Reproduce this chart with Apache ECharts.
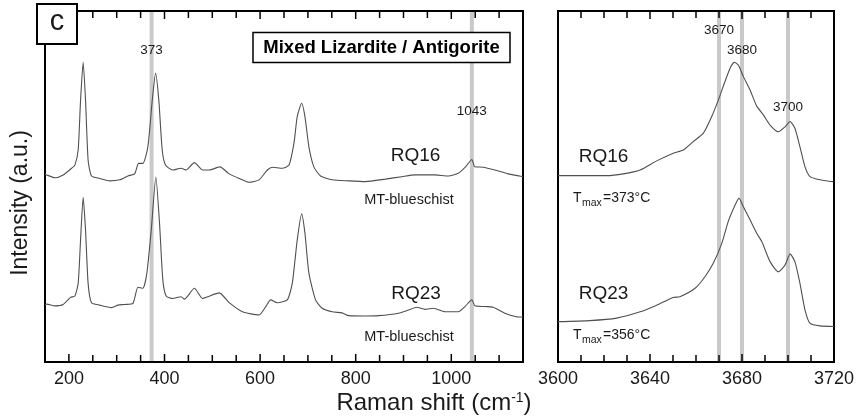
<!DOCTYPE html>
<html>
<head>
<meta charset="utf-8">
<script src="https://cdn.jsdelivr.net/npm/echarts@6/dist/echarts.min.js"></script>
<style>
  html, body { margin: 0; padding: 0; background: #fff; }
  #chart { width: 859px; height: 419px; }
</style>
</head>
<body>
<div id="chart"></div>
<script>
// Low-wavenumber region (lattice modes), Raman shift in cm-1 and intensity in a.u.
const rq16LowShift = [150, 153.5, 170.8, 188.1, 205.6, 212.5, 219.4, 224.4, 229.8, 234.8, 240.2, 247.3, 264.6, 285.4, 306.3, 323.5, 337.5, 345.8, 354.8, 365.2, 374.4, 381.3, 388.1, 395.2, 402.1, 417.3, 434.8, 445.2, 462.5, 479.8, 493.8, 516.0, 535.4, 556.3, 577.1, 597.9, 615.2, 625.6, 646.5, 660.4, 670.8, 677.7, 686.9, 693.8, 702.1, 712.5, 726.5, 750.6, 785.4, 820.2, 861.9, 896.5, 924.4, 966.0, 993.8, 1014.6, 1029.8, 1043, 1049.4, 1066.7, 1091.0, 1118.8, 1143.1, 1150];
const rq16LowIntensity = [53.6, 53.3, 52.5, 53.3, 55.2, 56.1, 60.4, 74.6, 85.4, 74.6, 57.5, 53.0, 52.3, 51.6, 51.9, 53.0, 53.6, 56.6, 56.6, 61.3, 74.6, 82.3, 74.6, 60.4, 56.1, 54.7, 55.2, 54.7, 56.8, 54.7, 54.7, 55.6, 53.6, 52.3, 51.2, 51.9, 54.7, 55.5, 55.2, 56.1, 62.3, 69.9, 73.7, 69.9, 61.3, 55.6, 53.0, 51.9, 51.6, 51.4, 52.1, 52.8, 53.3, 53.3, 53.0, 53.8, 55.6, 57.7, 55.6, 55.5, 54.7, 53.6, 53.0, 52.8];

const rq23LowShift = [150, 153.5, 170.8, 188.1, 203.5, 212.5, 219.4, 224.4, 229.8, 234.8, 240.2, 247.3, 264.6, 289.0, 302.7, 316.7, 334.0, 344.4, 354.8, 363.1, 372.3, 381.9, 389.6, 396.5, 403.5, 417.3, 434.8, 441.7, 462.5, 479.8, 490.2, 514.6, 535.4, 563.1, 597.9, 611.9, 622.3, 636.0, 656.9, 667.3, 677.7, 686.9, 693.8, 702.1, 716.0, 729.8, 750.6, 771.5, 785.4, 820.2, 847.9, 889.6, 910.4, 927.7, 945.2, 962.5, 986.9, 1014.6, 1028.5, 1043, 1049.4, 1070.2, 1087.5, 1111.9, 1136.0, 1150];
const rq23LowIntensity = [16.4, 16.5, 16.0, 16.4, 18.4, 18.8, 22.4, 34.8, 46.9, 37.6, 22.4, 16.9, 16.2, 15.5, 16.2, 16.4, 16.7, 21.3, 21.0, 25.3, 37.6, 52.7, 39.5, 23.4, 18.8, 18.1, 18.6, 17.9, 21.0, 18.1, 18.6, 19.7, 16.9, 14.3, 13.4, 15.8, 17.7, 16.9, 17.7, 22.4, 34.8, 42.2, 36.7, 25.3, 17.7, 15.3, 14.3, 14.0, 13.2, 13.1, 13.2, 13.9, 14.8, 15.6, 15.0, 15.3, 14.3, 14.3, 15.8, 17.7, 16.0, 15.8, 15.6, 13.9, 12.9, 12.8];

// OH-stretching region
const rq16OHShift = [3600, 3621.2, 3628.4, 3635.7, 3642.9, 3650.1, 3654.5, 3658.8, 3663.2, 3666.8, 3669.7, 3672.6, 3675.1, 3676.7, 3678.4, 3680.6, 3683.5, 3686.4, 3689.3, 3692.2, 3695.8, 3698.7, 3700.9, 3703.0, 3705.2, 3707.4, 3709.6, 3713.9, 3719.7, 3720];
const rq16OHIntensity = [53.1, 53.1, 53.6, 54.7, 57.3, 59.5, 60.4, 62.8, 65.2, 69.9, 74.6, 79.9, 84.1, 85.4, 84.6, 81.3, 77.5, 72.9, 70.4, 67.5, 65.6, 67.0, 68.5, 66.6, 61.3, 55.6, 52.8, 51.9, 51.4, 51.4];

const rq23OHShift = [3600, 3613.9, 3625.5, 3635.7, 3642.9, 3650.1, 3653.0, 3659.6, 3663.9, 3667.5, 3671.2, 3674.0, 3677.0, 3678.7, 3680.6, 3683.5, 3686.4, 3688.6, 3692.2, 3695.8, 3698.7, 3700.9, 3703.0, 3705.2, 3707.4, 3709.6, 3713.9, 3720];
const rq23OHIntensity = [11.5, 11.8, 12.5, 14.3, 16.2, 18.4, 18.6, 21.0, 24.3, 28.1, 33.8, 40.0, 44.7, 46.7, 44.2, 40.5, 36.7, 34.3, 28.6, 25.7, 27.6, 30.8, 28.6, 22.4, 14.8, 11.0, 10.3, 10.1];

// Axis ticks
const lowTickLabels = [200, 400, 600, 800, 1000];
const lowMinorTicks = [250, 300, 350, 450, 500, 550, 650, 700, 750, 850, 900, 950, 1050, 1100];
const ohTickLabels = [3600, 3640, 3680, 3720];
const ohMajorTicks = [3640, 3680];
const ohMinorTicks = [3610, 3620, 3630, 3650, 3660, 3670, 3690, 3700, 3710];

// Reference band positions (cm-1)
const lowBands = [373, 1043];
const ohBands = [3670, 3680, 3700];

const FONT = '"Liberation Sans", Arial, Helvetica, sans-serif';
const INK = '#1a1a1a';
const LINE = '#505050';

const chart = echarts.init(document.getElementById('chart'), null, { renderer: 'canvas' });

const zip = (xs, ys) => xs.map((x, i) => [x, ys[i]]);

function xAxisFor(gridIndex, min, max, labelValues) {
  return {
    type: 'value', gridIndex, min, max,
    axisLine: { show: false },
    splitLine: { show: false },
    axisTick: { show: false },
    axisLabel: {
      show: true, customValues: labelValues, margin: 8,
      fontSize: 18, color: INK, fontFamily: FONT, formatter: v => String(v)
    }
  };
}

// Gray reference bands spanning the full plot height
function bandSeries(gridIndex, values) {
  return {
    type: 'custom', xAxisIndex: gridIndex, yAxisIndex: gridIndex, z: 1, silent: true,
    data: values.map(v => [v]),
    encode: { x: 0 },
    renderItem(params, api) {
      const top = api.coord([api.value(0), 100]);
      const bot = api.coord([api.value(0), 0]);
      return {
        type: 'rect',
        shape: { x: top[0] - 2, y: top[1] + 1, width: 4, height: bot[1] - top[1] - 2 },
        style: { fill: '#c9c9c9' }
      };
    }
  };
}

// Inward tick marks on the bottom and top frame edges
function tickSeries(gridIndex, values, len) {
  return {
    type: 'custom', xAxisIndex: gridIndex, yAxisIndex: gridIndex, z: 5, silent: true,
    data: values.map(v => [v]),
    encode: { x: 0 },
    renderItem(params, api) {
      const top = api.coord([api.value(0), 100]);
      const bot = api.coord([api.value(0), 0]);
      const st = { stroke: '#000', lineWidth: 1.5 };
      return {
        type: 'group',
        children: [
          { type: 'line', shape: { x1: top[0], y1: top[1], x2: top[0], y2: top[1] + len }, style: st },
          { type: 'line', shape: { x1: bot[0], y1: bot[1], x2: bot[0], y2: bot[1] - len }, style: st }
        ]
      };
    }
  };
}

function spectrum(name, gridIndex, data) {
  return {
    name, type: 'line', xAxisIndex: gridIndex, yAxisIndex: gridIndex, z: 3,
    data, showSymbol: false, symbol: 'none', silent: true, smooth: 0.2,
    lineStyle: { color: LINE, width: 1.1 }
  };
}

const frame = { show: true, borderColor: '#000', borderWidth: 2 };

chart.setOption({
  animation: false,
  grid: [
    Object.assign({ left: 45, top: 11, width: 478, height: 351 }, frame),
    Object.assign({ left: 558, top: 11, width: 276, height: 351 }, frame)
  ],
  xAxis: [
    xAxisFor(0, 150, 1150, lowTickLabels),
    xAxisFor(1, 3600, 3720, ohTickLabels)
  ],
  yAxis: [0, 1].map(g => ({ type: 'value', gridIndex: g, min: 0, max: 100, show: false })),
  series: [
    bandSeries(0, lowBands),
    bandSeries(1, ohBands),
    tickSeries(0, lowTickLabels, 8),
    tickSeries(0, lowMinorTicks, 7),
    tickSeries(1, ohMajorTicks, 8),
    tickSeries(1, ohMinorTicks, 7),
    spectrum('RQ16', 0, zip(rq16LowShift, rq16LowIntensity)),
    spectrum('RQ23', 0, zip(rq23LowShift, rq23LowIntensity)),
    spectrum('RQ16', 1, zip(rq16OHShift, rq16OHIntensity)),
    spectrum('RQ23', 1, zip(rq23OHShift, rq23OHIntensity))
  ]
});

// Annotations
const lowX = v => chart.convertToPixel({ xAxisIndex: 0 }, v);
const ohX = v => chart.convertToPixel({ xAxisIndex: 1 }, v);

function label(text, x, y, size, extra) {
  return {
    type: 'text', x, y, z: 10, silent: true,
    style: Object.assign({
      text, fontSize: size, fontFamily: FONT, fill: INK,
      align: 'center', verticalAlign: 'middle'
    }, extra || {})
  };
}

const bandLabelY = { 373: 50, 1043: 111, 3670: 30, 3680: 50, 3700: 107 };

const graphics = [
  // panel tag
  { type: 'rect', z: 9, shape: { x: 37, y: 4, width: 40, height: 40 },
    style: { fill: '#fff', stroke: '#000', lineWidth: 2 } },
  label('c', 57, 22, 29),
  // mineral assemblage box
  { type: 'rect', z: 9, shape: { x: 253, y: 32.5, width: 257, height: 30 },
    style: { fill: '#fff', stroke: '#000', lineWidth: 1.5 } },
  label('Mixed Lizardite / Antigorite', 381.5, 48, 18.5, { fontWeight: 'bold', fill: '#000' }),
  // sample names
  label('RQ16', 415.5, 156, 19),
  label('RQ23', 416, 294, 19),
  label('MT-blueschist', 409, 200, 14.5),
  label('MT-blueschist', 409, 337, 14.5),
  label('RQ16', 603.5, 156.5, 19),
  label('RQ23', 603.5, 294, 19),
  // axis titles
  label('Raman shift (cm{sup|-1})', 434, 403, 24, {
    rich: { sup: { fontSize: 14, fontFamily: FONT, fill: INK, verticalAlign: 'top', padding: [0, 0, 8, 0] } }
  }),
  Object.assign(label('Intensity (a.u.)', 21, 203, 23), { rotation: Math.PI / 2 })
];

// band value labels
lowBands.forEach(v => graphics.push(label(String(v), lowX(v), bandLabelY[v], 13.5)));
ohBands.forEach(v => graphics.push(label(String(v), ohX(v), bandLabelY[v], 13.5)));

// temperature estimates with subscript
function tmax(value, x, capCenter) {
  const base = { fontFamily: FONT, fill: INK, align: 'left', verticalAlign: 'middle' };
  graphics.push({ type: 'text', x, y: capCenter, z: 10, style: Object.assign({ text: 'T', fontSize: 14 }, base) });
  graphics.push({ type: 'text', x: x + 9, y: capCenter + 5, z: 10, style: Object.assign({ text: 'max', fontSize: 10.5 }, base) });
  graphics.push({ type: 'text', x: x + 30, y: capCenter, z: 10, style: Object.assign({ text: '=' + value + '°C', fontSize: 14 }, base) });
}
tmax(373, 573, 198);
tmax(356, 573, 335);

chart.setOption({ graphic: graphics });
</script>
</body>
</html>
